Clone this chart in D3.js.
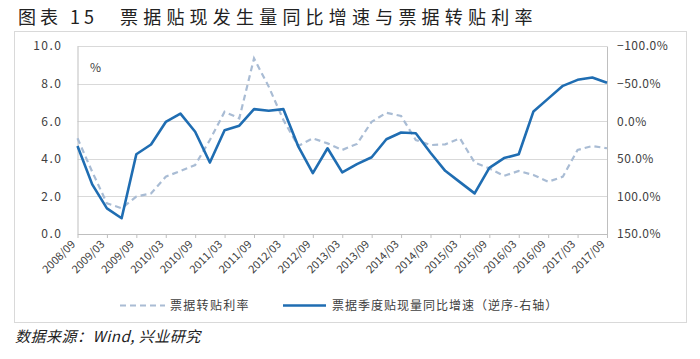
<!DOCTYPE html>
<html><head><meta charset="utf-8">
<script src="https://cdn.jsdelivr.net/npm/d3@7"></script>
<style>
body{margin:0;background:#fff;}
svg{display:block;}
</style></head>
<body>
<svg id="c" width="700" height="359"></svg>
<script>
const categories = ["2008/09","2008/12","2009/03","2009/06","2009/09","2009/12","2010/03","2010/06","2010/09","2010/12","2011/03","2011/06","2011/09","2011/12","2012/03","2012/06","2012/09","2012/12","2013/03","2013/06","2013/09","2013/12","2014/03","2014/06","2014/09","2014/12","2015/03","2015/06","2015/09","2015/12","2016/03","2016/06","2016/09","2016/12","2017/03","2017/06","2017/09"];
const rateValues = [5.09,3.31,1.63,1.37,1.99,2.16,3.05,3.35,3.67,5.0,6.5,6.15,9.34,7.84,6.06,4.68,5.09,4.82,4.47,4.79,5.97,6.45,6.28,5.0,4.73,4.77,5.09,3.80,3.49,3.09,3.35,3.14,2.78,3.05,4.47,4.68,4.56];
const growthValues = [33,84,116,129,44,31,1,-10,14,55,12,6,-16,-14,-16,33,69,36,68,57,48,24,15,16,42,66,81,96,62,49,44,-13,-30,-47,-55,-58,-51];
const leftTicks = [0,2,4,6,8,10];
const rightTicks = [-100,-50,0,50,100,150];
const tickCategories = categories.filter((d,i)=>i%2===0);
const seriesNames = ["票据转贴利率","票据季度贴现量同比增速（逆序-右轴）"];
const titleLabel = "图表 15";
const titleText = "票据贴现发生量同比增速与票据转贴利率";
const sourceText = "数据来源：Wind, 兴业研究";

const svg = d3.select("#c");
const font = "'Noto Sans CJK SC', 'Liberation Sans', sans-serif";
const x = d3.scalePoint().domain(categories).range([77.5, 607]);
const yL = d3.scaleLinear().domain([0,10]).range([234,46]);
const yR = d3.scaleLinear().domain([-100,150]).range([46,234]);

// title
svg.append("text").attr("x",18).attr("y",24).attr("font-family",font)
  .attr("font-size",18).attr("letter-spacing","4px").attr("fill","#222").text(titleLabel);
svg.append("text").attr("x",120).attr("y",24).attr("font-family",font)
  .attr("font-size",18).attr("letter-spacing","5.2px").attr("fill","#222").text(titleText);

// frame
svg.append("rect").attr("x",14.5).attr("y",31.5).attr("width",672).attr("height",291)
  .attr("fill","none").attr("stroke","#d9d9d9");

// gridlines
svg.append("g").selectAll("line").data(leftTicks.filter(d=>d>0)).join("line")
  .attr("x1",77.5).attr("x2",607).attr("y1",d=>Math.round(yL(d))+0.5).attr("y2",d=>Math.round(yL(d))+0.5)
  .attr("stroke","#d9d9d9").attr("stroke-width",1);

// left axis
const gl = svg.append("g").attr("transform","translate(77.5,0)")
  .call(d3.axisLeft(yL).tickValues(leftTicks).tickFormat(d3.format(".1f")).tickSize(0).tickPadding(15));
gl.select(".domain").attr("stroke","#bfbfbf");
gl.selectAll("text").attr("font-family",font).attr("font-size",12).attr("fill","#404040").attr("letter-spacing","1.5px");

// right axis
const gr = svg.append("g").attr("transform","translate(607,0)")
  .call(d3.axisRight(yR).tickValues(rightTicks).tickFormat(d=>d3.format(".1f")(d)+"%").tickSize(0).tickPadding(10));
gr.select(".domain").attr("stroke","#bfbfbf");
gr.selectAll("text").attr("font-family",font).attr("font-size",12).attr("fill","#404040").attr("letter-spacing","0.5px");

// bottom axis
const gb = svg.append("g").attr("transform","translate(0,234)")
  .call(d3.axisBottom(x).tickValues(tickCategories).tickSize(4).tickSizeOuter(0));
gb.select(".domain").attr("stroke","#bfbfbf");
gb.selectAll(".tick line").attr("stroke","#bfbfbf");
gb.selectAll("text").attr("font-family",font).attr("font-size",11).attr("fill","#404040")
  .attr("text-anchor","end").attr("dy","0").attr("y",0)
  .attr("transform","translate(-2,11) rotate(-45)");

// % label
svg.append("text").attr("x",90).attr("y",72).attr("font-family",font).attr("font-size",12)
  .attr("fill","#404040").text("%");

// lines
const lineL = d3.line().x((d,i)=>x(categories[i])).y(d=>yL(d));
const lineR = d3.line().x((d,i)=>x(categories[i])).y(d=>yR(d));
svg.append("path").datum(rateValues).attr("d",lineL).attr("fill","none")
  .attr("stroke","#a9bcd4").attr("stroke-width",2.2).attr("stroke-dasharray","6,4");
svg.append("path").datum(growthValues).attr("d",lineR).attr("fill","none")
  .attr("stroke","#1f6db2").attr("stroke-width",2.6).attr("stroke-linejoin","round");

// legend
const lg = svg.append("g");
lg.append("line").attr("x1",120).attr("x2",165).attr("y1",305.5).attr("y2",305.5)
  .attr("stroke","#a9bcd4").attr("stroke-width",2.2).attr("stroke-dasharray","6,4");
lg.append("text").attr("x",170).attr("y",310).attr("font-family",font).attr("font-size",12)
  .attr("letter-spacing","1.3px").attr("fill","#404040").text(seriesNames[0]);
lg.append("line").attr("x1",283).attr("x2",326).attr("y1",305.5).attr("y2",305.5)
  .attr("stroke","#1f6db2").attr("stroke-width",2.6);
lg.append("text").attr("x",332).attr("y",310).attr("font-family",font).attr("font-size",12)
  .attr("letter-spacing","1px").attr("fill","#404040").text(seriesNames[1]);

// source
svg.append("text").attr("x",15).attr("y",342).attr("font-family",font).attr("font-size",15)
  .attr("letter-spacing","0.5px").attr("font-style","italic").attr("fill","#222").text(sourceText);
</script>
</body></html>
